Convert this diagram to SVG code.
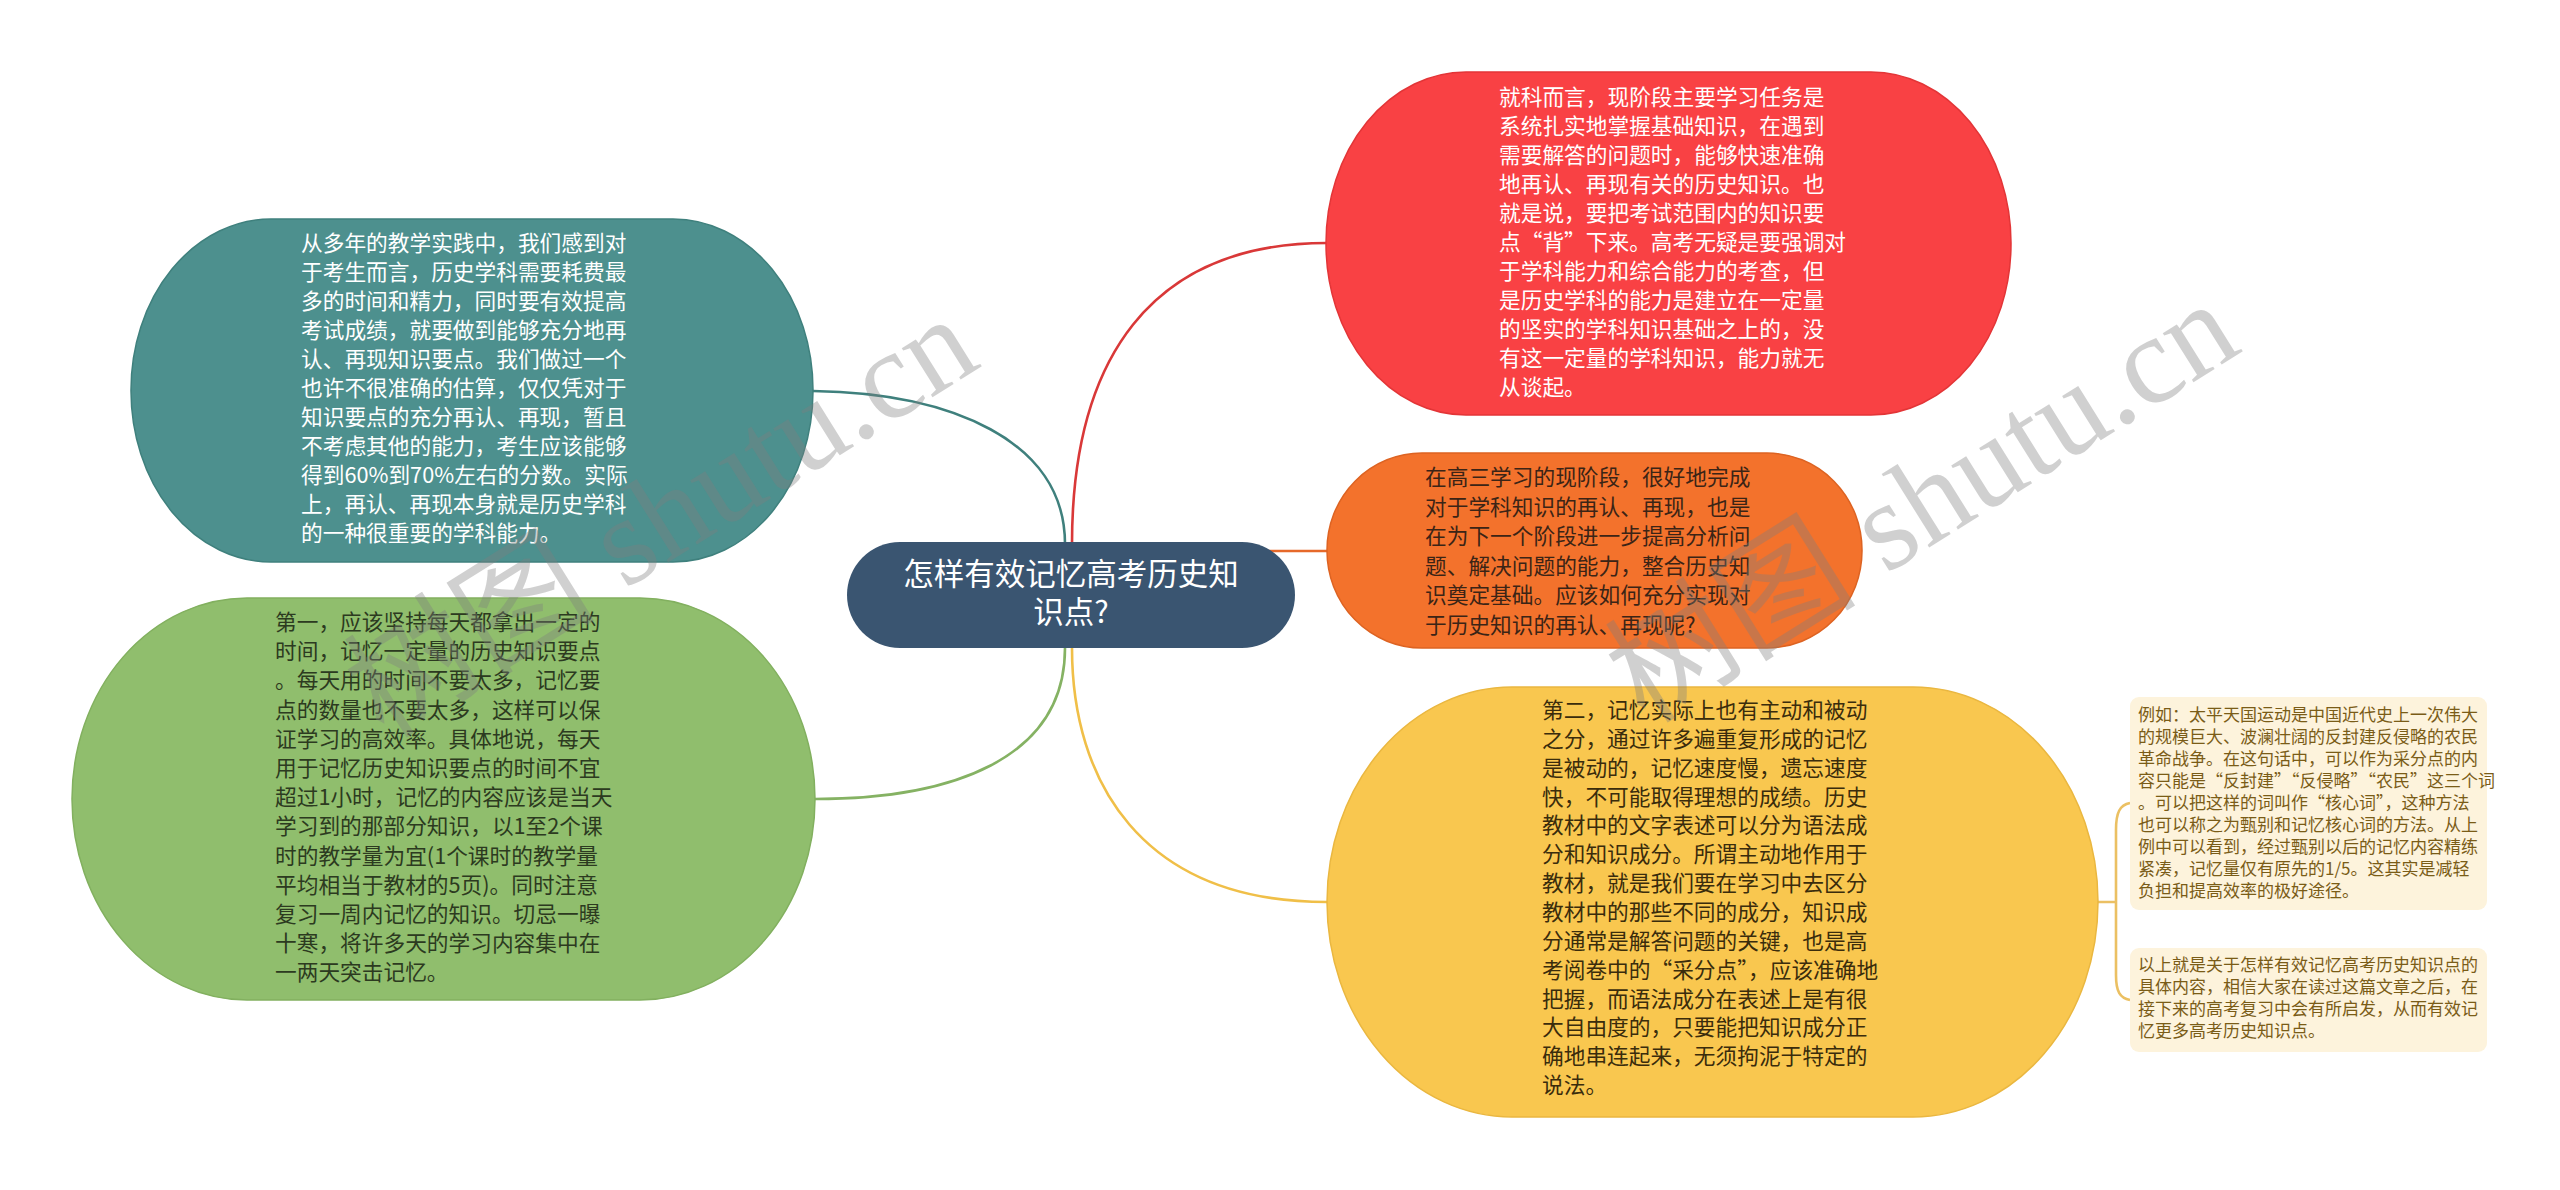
<svg xmlns="http://www.w3.org/2000/svg" width="2560" height="1190" viewBox="0 0 2560 1190">
<style>
.t{font-family:"Noto Sans CJK SC","Noto Sans",sans-serif;font-size:21.7px;}
.n{font-family:"Noto Sans CJK SC","Noto Sans",sans-serif;font-size:17px;fill:#7a5c17;}
.w{fill:#ffffff;}
.c{fill:none;stroke-width:2.6;}
.wm{font-family:"Liberation Serif","Noto Sans CJK SC",serif;font-size:126px;fill:#7f7f7f;opacity:0.36;}
</style>
<rect width="2560" height="1190" fill="#ffffff"/>
<g id="connectors">
<path class="c" stroke="#3f807d" d="M813,391 C950,393 1065,440 1065,544"/>
<path class="c" stroke="#d93838" d="M1072,544 C1072,360 1150,243 1327,243"/>
<path class="c" stroke="#e6692a" d="M1242,551 L1327,551"/>
<path class="c" stroke="#85b263" d="M1065,648 C1065,760 950,799 815,799"/>
<path class="c" stroke="#f0bf48" d="M1072,648 C1072,780 1140,902 1327,902"/>
<path class="c" stroke="#ebc063" d="M2096,902 L2116,902 M2130,803 C2120,805 2116,812 2116,830 L2116,975 C2116,992 2120,998 2130,1000"/>
</g>
<g id="center">
<rect x="847" y="542" width="448" height="106" rx="53" ry="53" fill="#3a5571"/>
<text class="t w" style="font-size:30.5px" text-anchor="middle"><tspan x="1071" y="585">怎样有效记忆高考历史知</tspan><tspan x="1071" y="623">识点?</tspan></text>
</g>
<g id="node-red">
<rect x="1326" y="72" width="685" height="343" rx="140" ry="171" fill="#f94144" stroke="#e33537" stroke-width="1.5"/>
<text class="t w"><tspan x="1499" y="105">就科而言，现阶段主要学习任务是</tspan><tspan x="1499" y="134">系统扎实地掌握基础知识，在遇到</tspan><tspan x="1499" y="163">需要解答的问题时，能够快速准确</tspan><tspan x="1499" y="192">地再认、再现有关的历史知识。也</tspan><tspan x="1499" y="221">就是说，要把考试范围内的知识要</tspan><tspan x="1499" y="250">点“背”下来。高考无疑是要强调对</tspan><tspan x="1499" y="279">于学科能力和综合能力的考查，但</tspan><tspan x="1499" y="308">是历史学科的能力是建立在一定量</tspan><tspan x="1499" y="337">的坚实的学科知识基础之上的，没</tspan><tspan x="1499" y="366">有这一定量的学科知识，能力就无</tspan><tspan x="1499" y="395">从谈起。</tspan></text>
</g>
<g id="node-orange">
<rect x="1327" y="453" width="535" height="195" rx="95" ry="97" fill="#f3722c" stroke="#dd6322" stroke-width="1.5"/>
<text class="t" fill="#3b2416"><tspan x="1425" y="485">在高三学习的现阶段，很好地完成</tspan><tspan x="1425" y="514.6">对于学科知识的再认、再现，也是</tspan><tspan x="1425" y="544.2">在为下一个阶段进一步提高分析问</tspan><tspan x="1425" y="573.8">题、解决问题的能力，整合历史知</tspan><tspan x="1425" y="603.4">识奠定基础。应该如何充分实现对</tspan><tspan x="1425" y="633">于历史知识的再认、再现呢?</tspan></text>
</g>
<g id="node-yellow">
<rect x="1327" y="687" width="771" height="430" rx="185" ry="215" fill="#f9c74f" stroke="#eab740" stroke-width="1.5"/>
<text class="t" fill="#3a2c0c"><tspan x="1542" y="718">第二，记忆实际上也有主动和被动</tspan><tspan x="1542" y="746.85">之分，通过许多遍重复形成的记忆</tspan><tspan x="1542" y="775.7">是被动的，记忆速度慢，遗忘速度</tspan><tspan x="1542" y="804.55">快，不可能取得理想的成绩。历史</tspan><tspan x="1542" y="833.4">教材中的文字表述可以分为语法成</tspan><tspan x="1542" y="862.25">分和知识成分。所谓主动地作用于</tspan><tspan x="1542" y="891.1">教材，就是我们要在学习中去区分</tspan><tspan x="1542" y="919.95">教材中的那些不同的成分，知识成</tspan><tspan x="1542" y="948.8">分通常是解答问题的关键，也是高</tspan><tspan x="1542" y="977.65">考阅卷中的“采分点”，应该准确地</tspan><tspan x="1542" y="1006.5">把握，而语法成分在表述上是有很</tspan><tspan x="1542" y="1035.35">大自由度的，只要能把知识成分正</tspan><tspan x="1542" y="1064.2">确地串连起来，无须拘泥于特定的</tspan><tspan x="1542" y="1093">说法。</tspan></text>
</g>
<g id="node-teal">
<rect x="131" y="219" width="682" height="343" rx="140" ry="171" fill="#4d908e" stroke="#3f807d" stroke-width="1.5"/>
<text class="t w"><tspan x="301" y="251">从多年的教学实践中，我们感到对</tspan><tspan x="301" y="280">于考生而言，历史学科需要耗费最</tspan><tspan x="301" y="309">多的时间和精力，同时要有效提高</tspan><tspan x="301" y="338">考试成绩，就要做到能够充分地再</tspan><tspan x="301" y="367">认、再现知识要点。我们做过一个</tspan><tspan x="301" y="396">也许不很准确的估算，仅仅凭对于</tspan><tspan x="301" y="425">知识要点的充分再认、再现，暂且</tspan><tspan x="301" y="454">不考虑其他的能力，考生应该能够</tspan><tspan x="301" y="483">得到60%到70%左右的分数。实际</tspan><tspan x="301" y="512">上，再认、再现本身就是历史学科</tspan><tspan x="301" y="541">的一种很重要的学科能力。</tspan></text>
</g>
<g id="node-green">
<rect x="72" y="598" width="743" height="402" rx="175" ry="201" fill="#90be6d" stroke="#82b05f" stroke-width="1.5"/>
<text class="t" fill="#2c3a20"><tspan x="275" y="630">第一，应该坚持每天都拿出一定的</tspan><tspan x="275" y="659.2">时间，记忆一定量的历史知识要点</tspan><tspan x="275" y="688.4">。每天用的时间不要太多，记忆要</tspan><tspan x="275" y="717.6">点的数量也不要太多，这样可以保</tspan><tspan x="275" y="746.8">证学习的高效率。具体地说，每天</tspan><tspan x="275" y="776">用于记忆历史知识要点的时间不宜</tspan><tspan x="275" y="805.2">超过1小时，记忆的内容应该是当天</tspan><tspan x="275" y="834.4">学习到的那部分知识，以1至2个课</tspan><tspan x="275" y="863.6">时的教学量为宜(1个课时的教学量</tspan><tspan x="275" y="892.8">平均相当于教材的5页)。同时注意</tspan><tspan x="275" y="922">复习一周内记忆的知识。切忌一曝</tspan><tspan x="275" y="951.2">十寒，将许多天的学习内容集中在</tspan><tspan x="275" y="980.4">一两天突击记忆。</tspan></text>
</g>
<g id="note-1">
<rect x="2130" y="697" width="357" height="213" rx="9" fill="#fdf3dc"/>
<text class="n"><tspan x="2138" y="721">例如：太平天国运动是中国近代史上一次伟大</tspan><tspan x="2138" y="743">的规模巨大、波澜壮阔的反封建反侵略的农民</tspan><tspan x="2138" y="765">革命战争。在这句话中，可以作为采分点的内</tspan><tspan x="2138" y="787">容只能是“反封建”“反侵略”“农民”这三个词</tspan><tspan x="2138" y="809">。可以把这样的词叫作“核心词”，这种方法</tspan><tspan x="2138" y="831">也可以称之为甄别和记忆核心词的方法。从上</tspan><tspan x="2138" y="853">例中可以看到，经过甄别以后的记忆内容精练</tspan><tspan x="2138" y="875">紧凑，记忆量仅有原先的1/5。这其实是减轻</tspan><tspan x="2138" y="897">负担和提高效率的极好途径。</tspan></text>
</g>
<g id="note-2">
<rect x="2130" y="948" width="357" height="104" rx="9" fill="#fdf3dc"/>
<text class="n"><tspan x="2138" y="971">以上就是关于怎样有效记忆高考历史知识点的</tspan><tspan x="2138" y="993">具体内容，相信大家在读过这篇文章之后，在</tspan><tspan x="2138" y="1015">接下来的高考复习中会有所启发，从而有效记</tspan><tspan x="2138" y="1037">忆更多高考历史知识点。</tspan></text>
</g>
<g id="watermark">
<text class="wm" transform="translate(384,740) rotate(-32)">树图 shutu.cn</text>
<text class="wm" transform="translate(1645,725) rotate(-32)">树图 shutu.cn</text>
</g>
</svg>
